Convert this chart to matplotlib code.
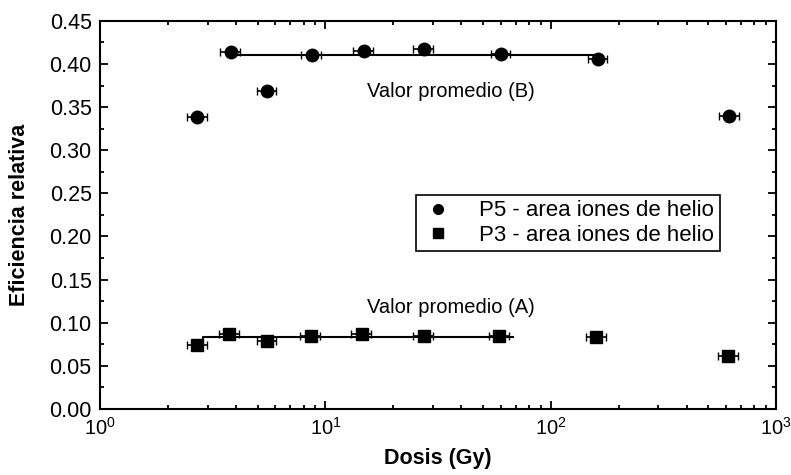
import matplotlib
matplotlib.use("Agg")
import matplotlib.pyplot as plt
import numpy as np
from matplotlib.lines import Line2D
from matplotlib.ticker import LogLocator, MultipleLocator, NullFormatter

plt.rcParams['font.family'] = ['Liberation Sans', 'DejaVu Sans']

# P5 - area iones de helio (circles)
dosis_p5 = [2.7, 3.8, 5.5, 8.7, 14.8, 27.3, 60.0, 162.0, 618.0]
efic_p5 = [0.339, 0.414, 0.369, 0.411, 0.415, 0.417, 0.412, 0.406, 0.340]

# P3 - area iones de helio (squares)
dosis_p3 = [2.7, 3.75, 5.5, 8.6, 14.5, 27.3, 59.0, 159.0, 612.0]
efic_p3 = [0.074, 0.087, 0.079, 0.085, 0.087, 0.085, 0.085, 0.083, 0.062]

# relative dose uncertainty
err_rel = 0.1

# average value lines
linea_b_x = [3.8, 162.0]
linea_b_y = [0.411, 0.411]
linea_a_x = [2.85, 2.85, 68.0]
linea_a_y = [0.077, 0.084, 0.084]

etiquetas = ['P5 - area iones de helio', 'P3 - area iones de helio']

fig = plt.figure(figsize=(7.91, 4.75), dpi=100)
ax = fig.add_axes([0.1264, 0.139, 0.855, 0.817])

ax.plot(linea_b_x, linea_b_y, color='black', lw=1.5, zorder=2)
ax.plot(linea_a_x, linea_a_y, color='black', lw=1.5, zorder=2)

x5 = np.array(dosis_p5)
x3 = np.array(dosis_p3)
ax.errorbar(x5, efic_p5, xerr=x5 * err_rel, fmt='o', color='black', ms=9,
            elinewidth=1.2, capsize=3, zorder=3)
ax.errorbar(x3, efic_p3, xerr=x3 * err_rel, fmt='s', color='black', ms=9,
            elinewidth=1.2, capsize=3, zorder=3)

ax.text(15.3, 0.368, 'Valor promedio (B)', fontsize=14.5, ha='left', va='center')
ax.text(15.3, 0.118, 'Valor promedio (A)', fontsize=14.5, ha='left', va='center')

ax.set_xscale('log')
ax.set_xlim(1, 1000)
ax.set_ylim(0, 0.45)
ax.yaxis.set_minor_locator(MultipleLocator(0.025))
ax.set_yticks(np.arange(0, 0.451, 0.05))
ax.set_yticklabels([f'{v:.2f}' for v in np.arange(0, 0.451, 0.05)])
ax.xaxis.set_major_locator(LogLocator(base=10, numticks=10))
ax.xaxis.set_minor_locator(LogLocator(base=10, subs=np.arange(2, 10), numticks=10))
ax.xaxis.set_minor_formatter(NullFormatter())

ax.tick_params(which='both', direction='in', top=True, right=True, width=1.3)
ax.tick_params(which='major', length=6, pad=6)
ax.tick_params(axis='y', labelsize=15.5)
ax.tick_params(axis='x', labelsize=14.5)
ax.tick_params(which='minor', length=3)
for s in ax.spines.values():
    s.set_linewidth(1.5)

ax.set_xlabel('Dosis (Gy)', fontsize=15.5, fontweight='bold', labelpad=6)
ax.set_ylabel('Eficiencia relativa', fontsize=15.5, fontweight='bold', labelpad=14)

handles = [Line2D([], [], ls='none', marker='o', color='black', ms=7),
           Line2D([], [], ls='none', marker='s', color='black', ms=7)]
leg = ax.legend(handles, etiquetas, loc='upper left', bbox_to_anchor=(0.467, 0.552),
                fontsize=16, frameon=True, fancybox=False, edgecolor='black',
                framealpha=1, handlelength=1.5, handletextpad=1.1, borderpad=0.25,
                labelspacing=0.15, borderaxespad=0)
leg.get_frame().set_linewidth(1.2)

fig.savefig('out.png', dpi=100)
